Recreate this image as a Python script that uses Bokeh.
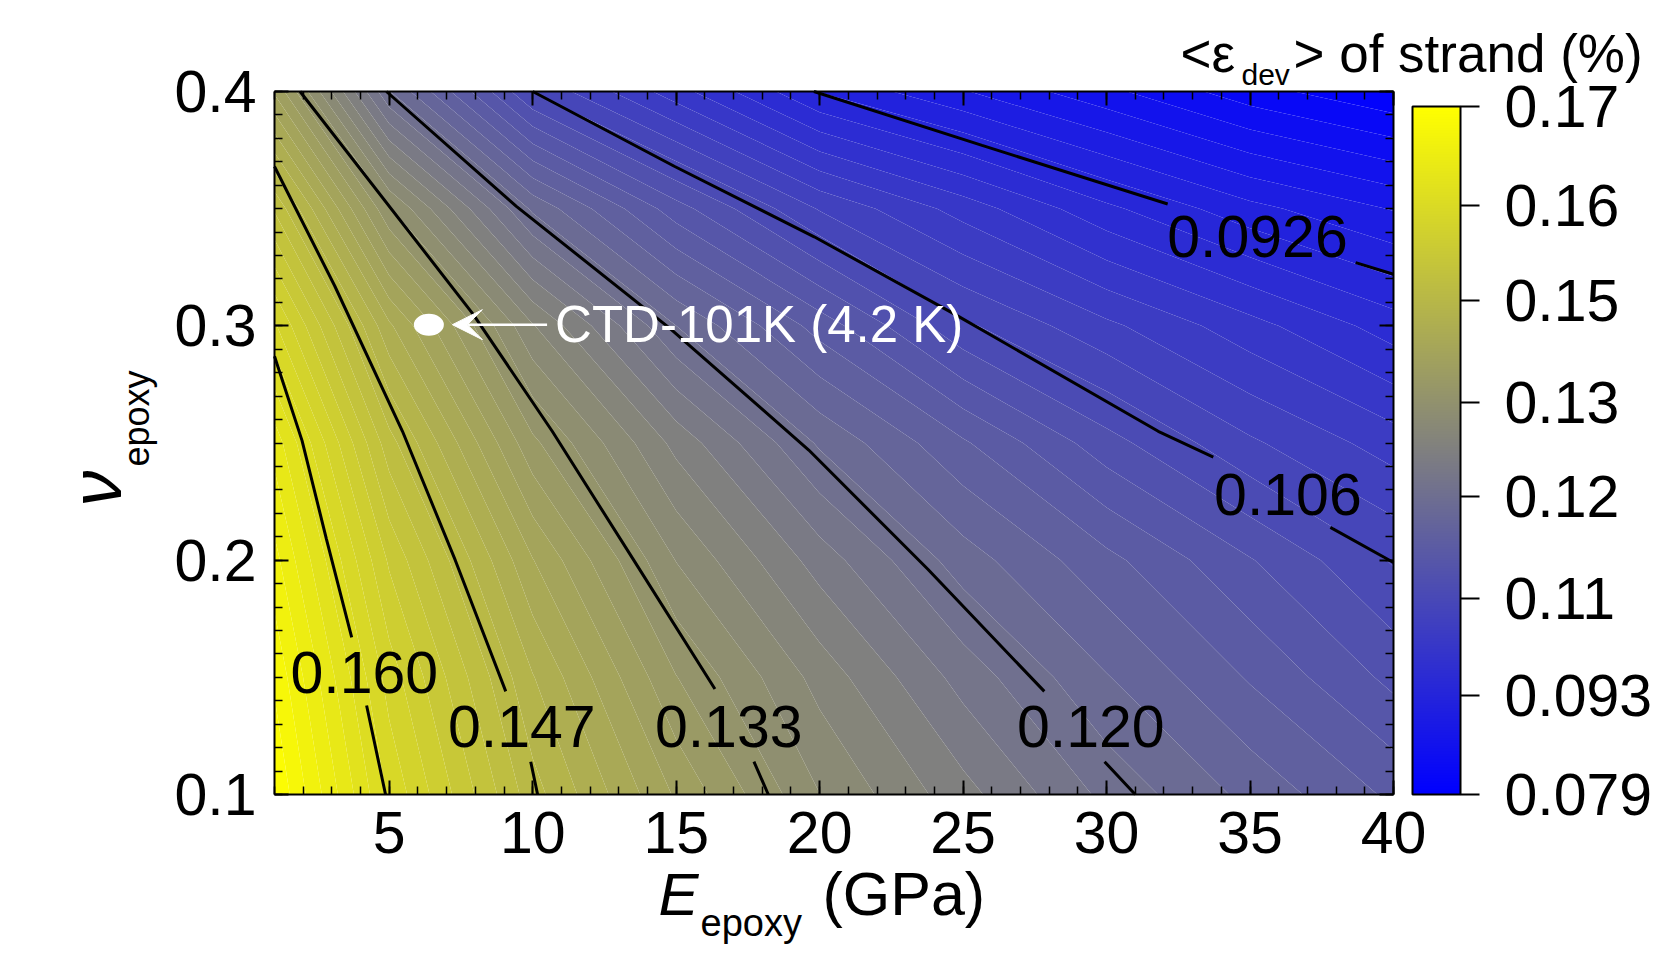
import numpy as np
from bokeh.plotting import figure
from bokeh.models import (Range1d, LinearAxis, FixedTicker, ColorBar, LinearColorMapper,
                          Label, Arrow, VeeHead, CustomJSTickFormatter)
from bokeh.core.properties import value
from bokeh.embed import file_html
from bokeh.resources import INLINE

# ---------------- data ----------------
E_grid = [1, 5, 10, 15, 20, 25, 30, 35, 40]            # GPa
nu_grid = [0.10, 0.15, 0.20, 0.25, 0.30, 0.35, 0.40]
strain_nu010 = [0.1735, 0.1597, 0.1474, 0.1386, 0.1312, 0.1261, 0.1210, 0.1171, 0.1134]
strain_nu015 = [0.1713, 0.1573, 0.1448, 0.1351, 0.1285, 0.1227, 0.1178, 0.1136, 0.1094]
strain_nu020 = [0.1685, 0.1540, 0.1409, 0.1311, 0.1245, 0.1186, 0.1144, 0.1101, 0.1059]
strain_nu025 = [0.1651, 0.1493, 0.1355, 0.1267, 0.1193, 0.1141, 0.1088, 0.1045, 0.1013]
strain_nu030 = [0.1585, 0.1431, 0.1294, 0.1196, 0.1130, 0.1065, 0.1027, 0.0991, 0.0955]
strain_nu035 = [0.1502, 0.1333, 0.1192, 0.1108, 0.1040, 0.0995, 0.0950, 0.0913, 0.0886]
strain_nu040 = [0.1386, 0.1197, 0.1060, 0.0992, 0.0925, 0.0889, 0.0854, 0.0818, 0.0793]

# contour lines (E, nu); NaN = gap for the inline label
nan = float("nan")
c0160_E = [1.00, 1.96, 2.81, 3.69, nan, 4.21, 4.87]
c0160_nu = [0.287, 0.251, 0.209, 0.167, nan, 0.138, 0.100]
c0147_E = [1.00, 3.10, 5.46, 7.30, 9.06, nan, 9.93, 10.17]
c0147_nu = [0.368, 0.317, 0.255, 0.200, 0.144, nan, 0.114, 0.100]
c0133_E = [1.89, 7.92, 10.68, 13.52, 16.35, nan, 17.71, 18.21]
c0133_nu = [0.400, 0.305, 0.255, 0.200, 0.145, nan, 0.114, 0.100]
c0120_E = [4.90, 9.43, 14.77, 19.62, 23.78, 27.83, nan, 29.93, 31.00]
c0120_nu = [0.400, 0.351, 0.299, 0.247, 0.196, 0.144, nan, 0.114, 0.100]
c0106_E = [10.00, 14.95, 19.81, 24.70, 31.80, 33.72, nan, 37.80, 40.00]
c0106_nu = [0.400, 0.368, 0.338, 0.305, 0.255, 0.244, nan, 0.214, 0.199]
c0926_E = [19.80, 25.66, 32.13, nan, 38.68, 40.00]
c0926_nu = [0.400, 0.377, 0.352, nan, 0.327, 0.322]

label_text = ["0.160", "0.147", "0.133", "0.120", "0.106", "0.0926"]
label_E = [4.13, 9.62, 16.83, 29.45, 36.32, 35.26]
label_nu = [0.152, 0.129, 0.129, 0.129, 0.228, 0.338]

ctd_E = [6.38]
ctd_nu = [0.3005]
ctd_text = ["CTD-101K (4.2 K)"]
arrow_E_start, arrow_E_tip = 10.5, 7.2
ctd_text_E = 10.78

cbar_ticks = [0.0791, 0.0926, 0.106, 0.120, 0.133, 0.147, 0.160, 0.1736]
cbar_labels = ["0.079", "0.093", "0.11", "0.12", "0.13", "0.15", "0.16", "0.17"]
cbar_low, cbar_high = 0.0791, 0.1736

x_ticks = [5, 10, 15, 20, 25, 30, 35, 40]
y_ticks = [0.1, 0.2, 0.3, 0.4]
E_min, E_max = 1, 40
nu_min, nu_max = 0.1, 0.4

# ---------------- layout constants (pixels) ----------------
W, H = 1655, 954
FL, FR, FT, FB = 274, 1393, 91, 794       # plot box on the canvas
FONT = "Liberation Sans"

px_x = (FR - FL) / (E_max - E_min)
px_y = (FB - FT) / (nu_max - nu_min)
x0 = E_min - FL / px_x
y0 = nu_min - (H - FB) / px_y

def blue_yellow(t):
    t = min(max(t, 0.0), 1.0)
    r = int(round(255 * t)); g = int(round(255 * t)); b = int(round(255 * (1 - t)))
    return "#%02x%02x%02x" % (r, g, b)

n_sub = 7
fill_levels = list(np.linspace(cbar_low, cbar_high, 7 * n_sub + 1))
band_colors = [blue_yellow(((fill_levels[i] + fill_levels[i + 1]) / 2 - cbar_low) / (cbar_high - cbar_low))
               for i in range(len(fill_levels) - 1)]
smooth_palette = [blue_yellow(i / 255) for i in range(256)]

p = figure(width=W, height=H, x_range=Range1d(x0, x0 + W / px_x), y_range=Range1d(y0, y0 + H / px_y),
           output_backend="svg", toolbar_location=None, title=None,
           min_border_left=0, min_border_right=0, min_border_top=0, min_border_bottom=0)
p.grid.visible = False
p.background_fill_color = "white"
p.border_fill_color = "white"
p.outline_line_color = None

Z = np.array([strain_nu010, strain_nu015, strain_nu020, strain_nu025,
              strain_nu030, strain_nu035, strain_nu040])
cr = p.contour(x=E_grid, y=nu_grid, z=Z, levels=fill_levels, fill_color=band_colors, line_color=None)
fg = cr.fill_renderer.glyph
fg.line_color = fg.fill_color
fg.line_width = 2

for xs, ys in [(c0160_E, c0160_nu), (c0147_E, c0147_nu), (c0133_E, c0133_nu),
               (c0120_E, c0120_nu), (c0106_E, c0106_nu), (c0926_E, c0926_nu)]:
    p.line(xs, ys, line_color="black", line_width=3)

p.text(x=label_E, y=label_nu, text=label_text, text_font=value(FONT), text_font_size="59px",
       text_color="black", text_align="center", text_baseline="middle")

# CTD-101K marker + arrow + text
p.ellipse(x=ctd_E, y=ctd_nu, width=30, height=22, width_units="screen", height_units="screen",
          fill_color="white", line_color=None)
p.add_layout(Arrow(end=VeeHead(size=30, fill_color="white", line_color="white"),
                   x_start=arrow_E_start, y_start=ctd_nu[0], x_end=arrow_E_tip, y_end=ctd_nu[0],
                   line_color="white", line_width=2.5))
p.text(x=[ctd_text_E], y=ctd_nu, text=ctd_text, text_font=value(FONT), text_font_size="51px",
       text_color="white", text_align="left", text_baseline="middle")

# axes, pinned to the edges of the data box
def style_axis(ax, labels=True):
    ax.major_tick_in = 14
    ax.major_tick_out = 0
    ax.minor_tick_in = 8
    ax.minor_tick_out = 0
    ax.axis_line_width = 2
    ax.axis_line_color = "black"
    ax.major_tick_line_width = 2
    ax.minor_tick_line_width = 1.5
    ax.major_tick_line_color = "black"
    ax.minor_tick_line_color = "black"
    ax.major_label_text_font = FONT
    ax.major_label_text_font_size = "59px"
    ax.major_label_text_color = "black"
    if not labels:
        ax.formatter = CustomJSTickFormatter(code="return ''")
        ax.major_label_standoff = 0

xt = FixedTicker(ticks=x_ticks, minor_ticks=list(range(1, 41)))
yt = FixedTicker(ticks=y_ticks, minor_ticks=[round(0.1 + 0.01 * i, 2) for i in range(31)])

xa = p.xaxis[0]
xa.ticker = xt
xa.fixed_location = nu_min
xa.bounds = (E_min, E_max)
style_axis(xa)
xa.major_label_standoff = 17

ya = p.yaxis[0]
ya.ticker = yt
ya.fixed_location = E_min
ya.bounds = (nu_min, nu_max)
style_axis(ya)
ya.major_label_standoff = 18

top_ax = LinearAxis(ticker=xt, fixed_location=nu_max, bounds=(E_min, E_max))
style_axis(top_ax, labels=False)
p.add_layout(top_ax, "above")
right_ax = LinearAxis(ticker=yt, fixed_location=E_max, bounds=(nu_min, nu_max))
style_axis(right_ax, labels=False)
p.add_layout(right_ax, "right")

mapper = LinearColorMapper(palette=smooth_palette, low=cbar_low - 0.00005, high=cbar_high + 0.00005)
cb = ColorBar(color_mapper=mapper, width=48, height=688, location=(1412, H - FB), padding=0, margin=0,
              ticker=FixedTicker(ticks=cbar_ticks),
              major_label_overrides=dict(zip(cbar_ticks, cbar_labels)),
              major_tick_in=0, major_tick_out=19, major_tick_line_color="black", major_tick_line_width=2,
              minor_tick_out=0, label_standoff=25, bar_line_color="black", bar_line_width=2,
              border_line_color=None, background_fill_color=None,
              major_label_text_font=FONT, major_label_text_font_size="59px",
              major_label_text_color="black")
p.add_layout(cb)

# titles: (x, baseline y) in canvas pixels from the top-left; Bokeh's baseline sits ~0.38 em low
def lab(x, y, text, size_px, style="normal", angle=0.0, font=FONT):
    shift = 0.38 * size_px
    if angle == 0.0:
        sx, sy = x, H - (y - shift)
    else:
        sx, sy = x - shift, H - y
    p.add_layout(Label(x=sx, y=sy, x_units="screen", y_units="screen", text=text,
                       text_font=font, text_font_size="%dpx" % size_px, text_font_style=style,
                       text_color="black", text_align="left", text_baseline="alphabetic",
                       angle=angle))

lab(658, 917, "E", 60, "italic")
lab(700, 937, "epoxy", 38)
lab(822, 917, "(GPa)", 61)

lab(123, 506, "ν", 72, "italic", angle=np.pi / 2)
lab(150, 466, "epoxy", 36, angle=np.pi / 2)

lab(1180, 73, "<ε", 53)
lab(1241, 85, "dev", 30)
lab(1293, 73, "> of strand (%)", 53)

open("out.html", "w").write(file_html(p, INLINE))
